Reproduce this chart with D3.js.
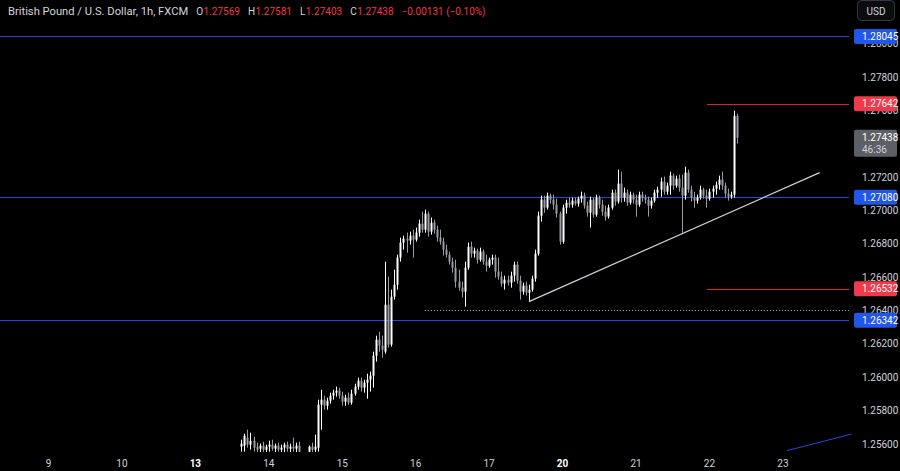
<!DOCTYPE html>
<html><head><meta charset="utf-8">
<script src="https://cdn.jsdelivr.net/npm/d3@7"></script>
<style>html,body{margin:0;padding:0;background:#000;overflow:hidden}</style>
</head><body>
<svg id="c" width="900" height="471"></svg>
<script>
// ---------------- data ----------------
const dayLabels = ["9","10","13","14","15","16","17","20","21","22","23"];
const boldDays = ["13","20"];
const firstHour = 63; // hour index (from day "9" 00:00, trading days only) of first candle
const open = [
1.25584,1.25590,1.25638,1.25596,1.25620,1.25584,1.25572,1.25590,1.25566,1.25584,
1.25596,1.25572,1.25590,1.25566,1.25578,1.25596,1.25572,1.25584,1.25572,1.25590,
1.25536,1.25506,1.25554,1.25584,1.25566,1.25578,1.25836,1.25866,1.25830,1.25860,
1.25890,1.25908,1.25920,1.25890,1.25854,1.25878,1.25848,1.25902,1.25944,1.25980,
1.25938,1.25968,1.25986,1.26010,1.26130,1.26226,1.26190,1.26154,1.26436,1.26196,
1.26484,1.26556,1.26718,1.26808,1.26832,1.26820,1.26850,1.26826,1.26868,1.26922,
1.26886,1.26982,1.26874,1.26928,1.26886,1.26838,1.26814,1.26766,1.26736,1.26694,
1.26658,1.26574,1.26538,1.26514,1.26658,1.26784,1.26742,1.26760,1.26706,1.26754,
1.26694,1.26670,1.26706,1.26718,1.26634,1.26604,1.26562,1.26586,1.26568,1.26610,
1.26676,1.26580,1.26514,1.26550,1.26508,1.26526,1.26592,1.26742,1.26970,1.27066,
1.27018,1.27090,1.27066,1.27036,1.26982,1.26814,1.27018,1.27048,1.27036,1.27060,
1.27042,1.27072,1.27090,1.27030,1.26988,1.27066,1.26976,1.27078,1.27036,1.26994,
1.26964,1.27018,1.27108,1.27054,1.27162,1.27078,1.27108,1.27048,1.27096,1.27066,
1.27036,1.27096,1.27078,1.27066,1.27030,1.27060,1.27108,1.27126,1.27174,1.27114,
1.27150,1.27210,1.27150,1.27192,1.27138,1.27090,1.27228,1.27126,1.27078,1.27060,
1.27078,1.27126,1.27090,1.27072,1.27114,1.27132,1.27156,1.27186,1.27150,1.27102,
1.27084,1.27096,1.27569];
const high = [
1.25626,1.25662,1.25686,1.25668,1.25644,1.25608,1.25602,1.25614,1.25596,1.25620,
1.25626,1.25602,1.25608,1.25596,1.25608,1.25614,1.25602,1.25638,1.25608,1.25614,
1.25548,1.25542,1.25590,1.25608,1.25656,1.25866,1.25926,1.25890,1.25878,1.25908,
1.25926,1.25944,1.25938,1.25914,1.25896,1.25908,1.25926,1.25962,1.25998,1.25998,
1.25986,1.26022,1.26034,1.26154,1.26250,1.26274,1.26250,1.26694,1.26604,1.26526,
1.26646,1.26736,1.26838,1.26850,1.26868,1.26874,1.26886,1.26898,1.26946,1.26994,
1.27006,1.26994,1.26958,1.26946,1.26910,1.26886,1.26838,1.26796,1.26754,1.26718,
1.26706,1.26646,1.26574,1.26694,1.26808,1.26814,1.26778,1.26772,1.26778,1.26766,
1.26736,1.26718,1.26736,1.26736,1.26718,1.26634,1.26610,1.26610,1.26634,1.26694,
1.26694,1.26610,1.26568,1.26574,1.26556,1.26610,1.26766,1.26994,1.27090,1.27090,
1.27108,1.27102,1.27096,1.27072,1.26994,1.27036,1.27066,1.27078,1.27078,1.27078,
1.27084,1.27114,1.27108,1.27054,1.27084,1.27078,1.27096,1.27090,1.27066,1.27030,
1.27036,1.27126,1.27126,1.27246,1.27234,1.27138,1.27126,1.27114,1.27108,1.27096,
1.27114,1.27114,1.27096,1.27084,1.27078,1.27126,1.27144,1.27198,1.27204,1.27168,
1.27234,1.27222,1.27210,1.27216,1.27216,1.27264,1.27246,1.27150,1.27114,1.27096,
1.27150,1.27138,1.27126,1.27132,1.27150,1.27174,1.27210,1.27234,1.27168,1.27132,
1.27114,1.27600,1.27581];
const low = [
1.25554,1.25554,1.25578,1.25566,1.25554,1.25548,1.25542,1.25548,1.25542,1.25554,
1.25560,1.25542,1.25554,1.25536,1.25548,1.25554,1.25536,1.25554,1.25542,1.25530,
1.25488,1.25470,1.25530,1.25536,1.25536,1.25554,1.25686,1.25806,1.25806,1.25842,
1.25866,1.25884,1.25872,1.25830,1.25830,1.25836,1.25836,1.25890,1.25926,1.25914,
1.25908,1.25872,1.25914,1.25938,1.26094,1.26154,1.26118,1.26142,1.26178,1.26184,
1.26466,1.26526,1.26694,1.26766,1.26748,1.26796,1.26718,1.26814,1.26844,1.26868,
1.26868,1.26844,1.26856,1.26862,1.26814,1.26796,1.26730,1.26718,1.26676,1.26628,
1.26538,1.26520,1.26478,1.26424,1.26646,1.26718,1.26718,1.26682,1.26694,1.26676,
1.26634,1.26658,1.26676,1.26598,1.26586,1.26544,1.26526,1.26550,1.26538,1.26574,
1.26562,1.26466,1.26496,1.26490,1.26454,1.26514,1.26574,1.26730,1.26934,1.26988,
1.27006,1.27042,1.27006,1.26958,1.26796,1.26802,1.26982,1.27018,1.27018,1.27030,
1.27024,1.27048,1.27012,1.26964,1.26898,1.26958,1.26964,1.27012,1.26970,1.26940,
1.26952,1.27006,1.27030,1.27042,1.27048,1.27054,1.27030,1.27036,1.27042,1.26964,
1.27024,1.27054,1.27042,1.26964,1.27012,1.27048,1.27078,1.27084,1.27096,1.27096,
1.27096,1.27126,1.27138,1.27114,1.26868,1.27066,1.27108,1.27054,1.27018,1.27042,
1.27066,1.27072,1.27018,1.27060,1.27078,1.27096,1.27126,1.27126,1.27078,1.27060,
1.27072,1.27078,1.27403];
const close = [
1.25602,1.25650,1.25596,1.25620,1.25578,1.25566,1.25590,1.25566,1.25584,1.25596,
1.25572,1.25590,1.25566,1.25578,1.25596,1.25572,1.25584,1.25572,1.25590,1.25554,
1.25506,1.25530,1.25584,1.25566,1.25584,1.25836,1.25866,1.25830,1.25860,1.25890,
1.25908,1.25920,1.25890,1.25854,1.25878,1.25848,1.25902,1.25944,1.25980,1.25938,
1.25968,1.25986,1.26010,1.26130,1.26226,1.26190,1.26166,1.26436,1.26196,1.26484,
1.26556,1.26718,1.26808,1.26832,1.26820,1.26850,1.26826,1.26868,1.26922,1.26886,
1.26982,1.26874,1.26928,1.26886,1.26838,1.26814,1.26766,1.26736,1.26694,1.26658,
1.26574,1.26538,1.26514,1.26658,1.26784,1.26742,1.26760,1.26706,1.26754,1.26694,
1.26670,1.26706,1.26718,1.26634,1.26604,1.26562,1.26586,1.26568,1.26610,1.26676,
1.26580,1.26514,1.26550,1.26508,1.26526,1.26592,1.26742,1.26970,1.27066,1.27018,
1.27090,1.27066,1.27036,1.26982,1.26814,1.27018,1.27048,1.27036,1.27060,1.27042,
1.27072,1.27090,1.27030,1.26988,1.27066,1.26976,1.27078,1.27036,1.26994,1.26964,
1.27018,1.27108,1.27054,1.27162,1.27078,1.27108,1.27048,1.27096,1.27066,1.27036,
1.27096,1.27078,1.27066,1.27030,1.27060,1.27108,1.27126,1.27174,1.27114,1.27150,
1.27210,1.27150,1.27192,1.27138,1.27090,1.27228,1.27126,1.27078,1.27060,1.27078,
1.27126,1.27090,1.27072,1.27114,1.27132,1.27156,1.27186,1.27150,1.27102,1.27084,
1.27096,1.27569,1.27438];
const priceTicks = [1.256,1.258,1.260,1.262,1.264,1.266,1.268,1.270,1.272,1.276,1.278,1.280];
const blueLevels = [1.28045, 1.27080, 1.26342];
const redLevels = [1.27642, 1.26532];
const redStartHour = 215.2;
const dottedLevel = 1.26406, dottedStartHour = 123;
const trendHours = [157, 252], trendPrices = [1.26454, 1.27228];
const rayHours = [241.3, 262.5], rayPrices = [1.25560, 1.25660];
const lastPrice = 1.27438, countdown = "46:36";
const titleText = "British Pound / U.S. Dollar, 1h, FXCM";
const ohlcNames = ["O","H","L","C"];
const ohlcValues = ["1.27569","1.27581","1.27403","1.27438"];
const changeText = "\u22120.00131 (\u22120.10%)";

// ---------------- drawing ----------------
const W = 900, H = 471, plotR = 849, plotB = 452;
const svg = d3.select("#c");
const FONT = "Roboto, 'Noto Sans', sans-serif";
svg.append("rect").attr("width",W).attr("height",H).attr("fill","#000");

const x = d3.scaleLinear().domain([0, 240]).range([48.5, 48.5 + 240*3.06]);
const y = d3.scaleLinear().domain([1.256, 1.278]).range([444, 77.3]);

svg.append("clipPath").attr("id","plot").append("rect")
  .attr("x",0).attr("y",0).attr("width",plotR).attr("height",plotB);
const plot = svg.append("g").attr("clip-path","url(#plot)");

// horizontal levels (1px rects)
const lv = plot.append("g");
lv.selectAll("rect.blue").data(blueLevels).join("rect").attr("class","blue")
  .attr("x",0).attr("width",plotR)
  .attr("y",d=>Math.round(y(d))).attr("height",1)
  .attr("fill","#2c44e0");
lv.selectAll("rect.red").data(redLevels).join("rect").attr("class","red")
  .attr("x",x(redStartHour)).attr("width",plotR-x(redStartHour))
  .attr("y",d=>Math.round(y(d))).attr("height",1)
  .attr("fill","#d2262f");
lv.append("line")
  .attr("x1",x(dottedStartHour)).attr("x2",plotR)
  .attr("y1",Math.round(y(dottedLevel))+0.5).attr("y2",Math.round(y(dottedLevel))+0.5)
  .attr("stroke","#b2b5be").attr("stroke-width",1).attr("stroke-dasharray","1,2");

// candles
const candles = open.map((o,i)=>({h:firstHour+i,o,hi:high[i],lo:low[i],c:close[i]}));
const upCol = "#ffffff", dnCol = "#9a9ca4";
const cg = plot.append("g");
cg.selectAll("line.wick").data(candles).join("line").attr("class","wick")
  .attr("x1",d=>Math.round(x(d.h))+0.5).attr("x2",d=>Math.round(x(d.h))+0.5)
  .attr("y1",d=>y(d.hi)).attr("y2",d=>y(d.lo))
  .attr("stroke",d=>d.c>=d.o?upCol:dnCol).attr("stroke-width",1);
cg.selectAll("rect.body").data(candles).join("rect").attr("class","body")
  .attr("x",d=>Math.round(x(d.h))-0.5).attr("width",2)
  .attr("y",d=>y(Math.max(d.o,d.c)))
  .attr("height",d=>Math.max(1,Math.abs(y(d.o)-y(d.c))))
  .attr("fill",d=>d.c>=d.o?upCol:dnCol);

// trend line & ray
plot.append("line")
  .attr("x1",x(trendHours[0])).attr("y1",y(trendPrices[0]))
  .attr("x2",x(trendHours[1])).attr("y2",y(trendPrices[1]))
  .attr("stroke","#d1d4dc").attr("stroke-width",1.2);
svg.append("line")
  .attr("x1",x(rayHours[0])).attr("y1",y(rayPrices[0]))
  .attr("x2",x(rayHours[1])).attr("y2",y(rayPrices[1]))
  .attr("stroke","#2c44e0").attr("stroke-width",1);

// price axis tick labels
svg.append("g").selectAll("text").data(priceTicks).join("text")
  .attr("x",862).attr("y",d=>y(d)).attr("dy","0.35em")
  .attr("fill","#d1d4dc").attr("font-family",FONT).attr("font-size",10)
  .text(d=>d.toFixed(5));

// level labels
function levelLabel(v, col){
  const g = svg.append("g");
  g.append("rect").attr("x",854).attr("y",y(v)-7.5).attr("width",43).attr("height",15)
    .attr("rx",2).attr("fill",col);
  g.append("text").attr("x",862).attr("y",y(v)).attr("dy","0.35em")
    .attr("fill","#ffffff").attr("font-family",FONT).attr("font-size",10).text(v.toFixed(5));
}
blueLevels.forEach(v=>levelLabel(v,"#2157e8"));
redLevels.forEach(v=>levelLabel(v,"#ef3a4b"));

// current price label
const lp = svg.append("g");
lp.append("rect").attr("x",854).attr("y",y(lastPrice)-8).attr("width",43).attr("height",27)
  .attr("rx",2).attr("fill","#5d5f66");
lp.append("text").attr("x",862).attr("y",y(lastPrice)).attr("dy","0.35em")
  .attr("fill","#ffffff").attr("font-family",FONT).attr("font-size",10).text(lastPrice.toFixed(5));
lp.append("text").attr("x",862).attr("y",y(lastPrice)+12).attr("dy","0.35em")
  .attr("fill","#d1d4dc").attr("font-family",FONT).attr("font-size",10).text(countdown);

// USD button
svg.append("rect").attr("x",857.5).attr("y",0.5).attr("width",37).attr("height",20).attr("rx",4)
  .attr("fill","#0c0c0e").attr("stroke","#363a45");
svg.append("text").attr("x",876).attr("y",11).attr("dy","0.35em").attr("text-anchor","middle")
  .attr("fill","#d1d4dc").attr("font-family",FONT).attr("font-size",10).text("USD");

// time axis
svg.append("g").selectAll("text").data(dayLabels).join("text")
  .attr("x",(d,i)=>x(i*24)).attr("y",463).attr("dy","0.35em").attr("text-anchor","middle")
  .attr("fill",d=>boldDays.includes(d)?"#ffffff":"#d1d4dc")
  .attr("font-weight",d=>boldDays.includes(d)?"bold":"normal")
  .attr("font-family",FONT).attr("font-size",10).text(d=>d);

// header
const hd = svg.append("text").attr("x",8).attr("y",15)
  .attr("font-family",FONT).attr("font-size",11.2).attr("fill","#d1d4dc");
hd.append("tspan").text(titleText);
ohlcNames.forEach((n,i)=>{
  hd.append("tspan").attr("dx", i===0?8:8).attr("font-size",10).text(n);
  hd.append("tspan").attr("dx",0.5).attr("font-size",10).attr("fill","#f23645").text(ohlcValues[i]);
});
hd.append("tspan").attr("dx",8).attr("font-size",10).attr("fill","#f23645").text(changeText);
</script>
</body></html>
